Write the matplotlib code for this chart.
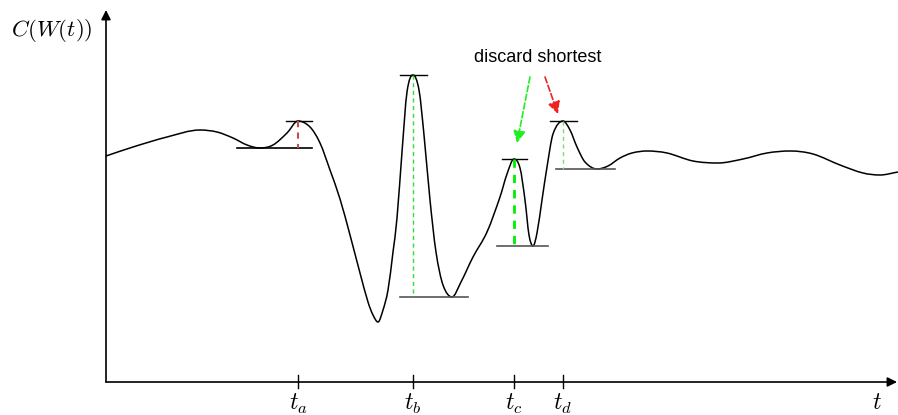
import numpy as np
import matplotlib.pyplot as plt
from matplotlib.path import Path
from matplotlib.patches import PathPatch

plt.rcParams['mathtext.fontset'] = 'cm'

# cost curve C(W(t)) sampled along the time axis (canvas pixel units, y grows downward)
curve_x = [106, 133, 167, 200, 217, 233, 247, 260, 273, 287, 298, 310, 320, 330,
           340, 350, 360, 368, 373, 378, 383, 388, 393, 397, 402, 407, 413, 419, 424,
           430, 436, 443, 452, 461, 473, 487, 500, 507, 514, 520, 525, 529, 533,
           537, 542, 547, 553, 563, 570, 577, 585, 597, 608, 620, 632, 647, 667,
           693, 718, 743, 767, 790, 813, 840, 863, 880, 898]
curve_y = [156, 147, 137, 130, 132, 138, 145, 148, 145, 133, 121, 127, 143, 170,
           199, 235, 273, 302, 315, 322, 310, 290, 252, 218, 152, 92, 75, 90, 135,
           200, 252, 285, 297, 282, 257, 232, 197, 174, 159, 168, 200, 235, 246,
           233, 200, 167, 134, 121, 130, 147, 162, 169, 166, 158, 153, 151, 153,
           161, 163, 159, 153, 151, 154, 165, 173, 175, 172]

# peaks picked out on the time axis, with their top and bottom levels
peak_labels = ['$t_a$', '$t_b$', '$t_c$', '$t_d$']
peak_t = [298, 413, 514, 563]
peak_top = [121, 75, 159, 121]
peak_bottom = [148, 297, 246, 169]
top_span = [(286, 312), (400, 427), (502, 527), (550, 577)]
bottom_span = [(237, 312), (400, 468), (497, 548), (556, 615)]
bottom_color = ['black', '#555555', '#555555', '#555555']
drop_color = ['#c0504d', '#33dd33', '#00ee00', '#77dd77']
drop_width = [1.5, 1.0, 2.0, 1.0]

W, H = 898, 415
fig = plt.figure(figsize=(W / 100, H / 100), dpi=100)
ax = fig.add_axes([0, 0, 1, 1])
ax.set_xlim(0, W)
ax.set_ylim(H, 0)
ax.axis('off')

# smooth curve: cubic Hermite segments through the samples, flat at turning points
x = np.asarray(curve_x, float)
y = np.asarray(curve_y, float)
slope = np.empty_like(y)
slope[0] = (y[1] - y[0]) / (x[1] - x[0])
slope[-1] = (y[-1] - y[-2]) / (x[-1] - x[-2])
for i in range(1, len(x) - 1):
    if (y[i] - y[i - 1]) * (y[i + 1] - y[i]) <= 0:
        slope[i] = 0.0
    else:
        slope[i] = (y[i + 1] - y[i - 1]) / (x[i + 1] - x[i - 1])
verts = [(x[0], y[0])]
codes = [Path.MOVETO]
for i in range(len(x) - 1):
    h = (x[i + 1] - x[i]) / 3
    verts += [(x[i] + h, y[i] + slope[i] * h),
              (x[i + 1] - h, y[i + 1] - slope[i + 1] * h),
              (x[i + 1], y[i + 1])]
    codes += [Path.CURVE4] * 3
ax.add_patch(PathPatch(Path(verts, codes), fill=False, lw=1.1, color='black'))

# axes with arrow heads
axis_y, axis_x = 382, 106
ax.annotate('', xy=(897, axis_y), xytext=(axis_x, axis_y),
            arrowprops=dict(arrowstyle='-|>', lw=1.2, color='black',
                            mutation_scale=14, shrinkA=0, shrinkB=0))
ax.annotate('', xy=(axis_x, 10), xytext=(axis_x, axis_y),
            arrowprops=dict(arrowstyle='-|>', lw=1.2, color='black',
                            mutation_scale=14, shrinkA=0, shrinkB=0))
ax.text(52, 30, r'$C(W(t))$', fontsize=16.5, ha='center', va='center')
ax.text(877, 402, r'$t$', fontsize=17, ha='center', va='center')

for lab, t, top, bot, ts, bs, bc, dc, dw in zip(peak_labels, peak_t, peak_top, peak_bottom,
                                               top_span, bottom_span, bottom_color,
                                               drop_color, drop_width):
    ax.plot(ts, [top, top], color='black', lw=1.0)
    ax.plot(bs, [bot, bot], color=bc, lw=1.2)
    ax.plot([t, t], [top, bot], color=dc, lw=dw, ls=(0, (3, 2.5)))
    ax.plot([t, t], [axis_y - 7, axis_y + 6], color='black', lw=1.0)
    ax.text(t, 404, lab, fontsize=17, ha='center', va='center')

ax.text(538, 57, 'discard shortest', fontsize=13, family='Liberation Sans',
        ha='center', va='center')
for start, end, col in [((530, 77), (517, 143), '#22ee22'),
                        ((545, 77), (558, 114), '#ee2222')]:
    ax.annotate('', xy=end, xytext=start,
                arrowprops=dict(arrowstyle='-|>', lw=1.2, color=col, ls='--',
                                mutation_scale=18, shrinkA=0, shrinkB=0))

fig.savefig('out.png', dpi=100)
